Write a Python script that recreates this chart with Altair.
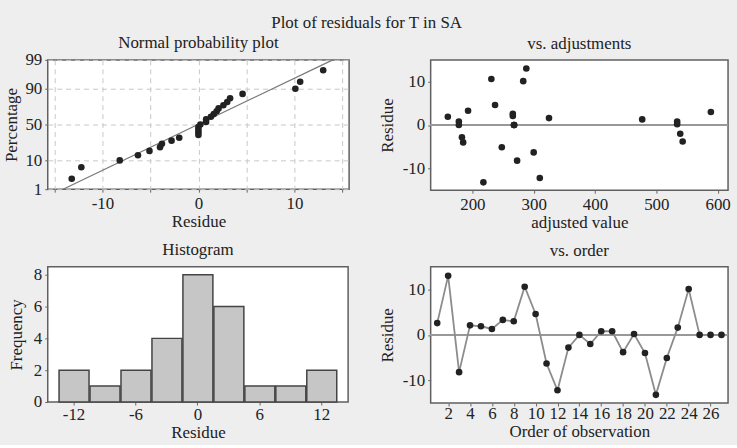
import altair as alt
import pandas as pd
from statistics import NormalDist

# ---------------- data ----------------
order = list(range(1, 28))
residue = [2.6, 13.0, -8.2, 2.1, 1.9, 1.3, 3.3, 3.0, 10.6, 4.6, -6.3, -12.2, -2.8, 0.0,
           -2.0, 0.8, 0.8, -3.8, 0.2, -4.0, -13.2, -5.1, 1.6, 10.1, 0.0, 0.0, 0.0]
adjusted = [266, 288, 273, 266, 160, 477, 193, 589, 231, 237, 300, 310, 183, 178,
            539, 534, 178, 543, 534, 185, 218, 248, 325, 283, 268, 268, 268]

# fitted normal line end points (percentage, residue)
fit_pct = [1, 99]
fit_res = [-14.1, 14.0]

prob_ticks = [1, 10, 50, 90, 99]
npp_x_grid = [-15, -10, -5, 0, 5, 10, 15]
hist_ticks = [-12, -6, 0, 6, 12]
freq_ticks = [0, 2, 4, 6, 8]
fits_ticks = [200, 300, 400, 500, 600]
order_ticks = list(range(2, 27, 2))
res_ticks = [-10, 0, 10]

FONT = "Liberation Serif"
ND = NormalDist()

df = pd.DataFrame({"order": order, "residue": residue, "adjusted": adjusted})

# normal probability positions (median ranks)
n = len(residue)
srt = sorted(residue)
npp = pd.DataFrame({
    "residue": srt,
    "z": [ND.inv_cdf((i + 1 - 0.3) / (n + 0.4)) for i in range(n)],
})
fit_df = pd.DataFrame({"residue": fit_res, "z": [ND.inv_cdf(p / 100) for p in fit_pct]})
zt = [ND.inv_cdf(p / 100) for p in prob_ticks]
label_expr = ("datum.value < -2 ? '1' : datum.value < -1 ? '10' : "
              "datum.value < 1 ? '50' : datum.value < 2 ? '90' : '99'")
HY = "replace(datum.label, '\u2212', '-')"

PT = dict(size=44, color="#222222", opacity=1)
GRID = dict(grid=True, gridDash=[5, 4], gridColor="#c8c8c8", gridWidth=1)

def ttl(text, off=7):
    return alt.TitleParams(text, font=FONT, fontSize=17, fontWeight="normal",
                           color="#222", offset=off)

# ---------- normal probability plot ----------
xs_npp = alt.Scale(domain=[-15.7, 15.7], nice=False, zero=False)
ys_npp = alt.Scale(domain=[zt[0], zt[-1]], nice=False, zero=False)
npp_pts = alt.Chart(npp).mark_circle(**PT).encode(
    x=alt.X("residue:Q", scale=xs_npp,
            axis=alt.Axis(title="Residue", values=npp_x_grid, tickCount=40, format="d",
                          titlePadding=3,
                          labelExpr="datum.value % 10 == 0 ? " + HY + " : ''", **GRID)),
    y=alt.Y("z:Q", scale=ys_npp,
            axis=alt.Axis(title="Percentage", values=zt, labelExpr=label_expr,
                          tickCount=40, titlePadding=4, **GRID)),
)
npp_line = alt.Chart(fit_df).mark_line(color="#777777", strokeWidth=1.2).encode(
    x=alt.X("residue:Q", scale=xs_npp), y=alt.Y("z:Q", scale=ys_npp))
tl = alt.layer(npp_line, npp_pts).properties(
    width=303, height=130, title=ttl("Normal probability plot", -1.5))

# ---------- vs adjustments ----------
ys_res = alt.Scale(domain=[-15, 15], nice=False, zero=False)
zero_rule = alt.Chart(df).mark_rule(color="#999999", strokeWidth=1.8).encode(
    y=alt.datum(0, scale=ys_res))
fits_pts = alt.Chart(df).mark_circle(**PT).encode(
    x=alt.X("adjusted:Q", scale=alt.Scale(domain=[132, 617], nice=False, zero=False),
            axis=alt.Axis(title="adjusted value", values=fits_ticks, tickCount=40,
                          titlePadding=3, format="d")),
    y=alt.Y("residue:Q", scale=ys_res,
            axis=alt.Axis(title="Residue", values=res_ticks, titlePadding=6, format="d",
                          tickCount=40, labelExpr=HY)),
)
tr = alt.layer(zero_rule, fits_pts).properties(
    width=299, height=131, title=ttl("vs. adjustments"))

# ---------- histogram ----------
bl = alt.Chart(df).mark_bar(color="#c6c6c6", stroke="#444444", strokeWidth=1.5).encode(
    x=alt.X("residue:Q", bin=alt.Bin(extent=[-13.5, 13.5], step=3, nice=False),
            scale=alt.Scale(domain=[-14.5, 14.6], nice=False, zero=False),
            axis=alt.Axis(title="Residue", values=hist_ticks, tickCount=40, format="d",
                          titlePadding=2, labelPadding=2, labelExpr=HY)),
    y=alt.Y("count():Q", scale=alt.Scale(domain=[0, 8.5], nice=False),
            axis=alt.Axis(title="Frequency", values=freq_ticks, tickCount=40, format="d",
                          titlePadding=8)),
).properties(width=302, height=136, title=ttl("Histogram"))

# ---------- vs order ----------
xs_ord = alt.Scale(domain=[0.4, 27.6], nice=False, zero=False)
ord_line = alt.Chart(df).mark_line(color="#8c8c8c", strokeWidth=1.8).encode(
    x=alt.X("order:Q", scale=xs_ord), y=alt.Y("residue:Q", scale=ys_res))
ord_pts = alt.Chart(df).mark_circle(**PT).encode(
    x=alt.X("order:Q", scale=xs_ord,
            axis=alt.Axis(title="Order of observation", values=order_ticks, format="d",
                          tickCount=40, labelPadding=0, titlePadding=2)),
    y=alt.Y("residue:Q", scale=ys_res,
            axis=alt.Axis(title="Residue", values=res_ticks, titlePadding=6, format="d",
                          tickCount=40, labelExpr=HY)),
)
br = alt.layer(zero_rule, ord_line, ord_pts).properties(
    width=299, height=137, title=ttl("vs. order"))

chart = alt.concat(
    tl, tr, bl, br, columns=2, spacing={"row": 8, "column": 27},
).properties(
    title=alt.TitleParams("Plot of residuals for T in SA", font=FONT, fontSize=17,
                          fontWeight="normal", color="#222", anchor="middle", offset=2),
    background="#eeeeee",
    padding={"left": 2, "top": 12, "right": 5, "bottom": 2},
).configure_view(
    fill="white", stroke="#606060", strokeWidth=1.5,
).configure_axis(
    labelFont=FONT, titleFont=FONT, labelFontSize=17, titleFontSize=17,
    titleFontWeight="normal", labelColor="#222", titleColor="#222",
    tickSize=3, tickColor="#666", labelPadding=3, titlePadding=1,
    domain=False, grid=False, labelOverlap=False,
)

chart.save("out.html", embed_options={"renderer": "svg", "actions": False})
